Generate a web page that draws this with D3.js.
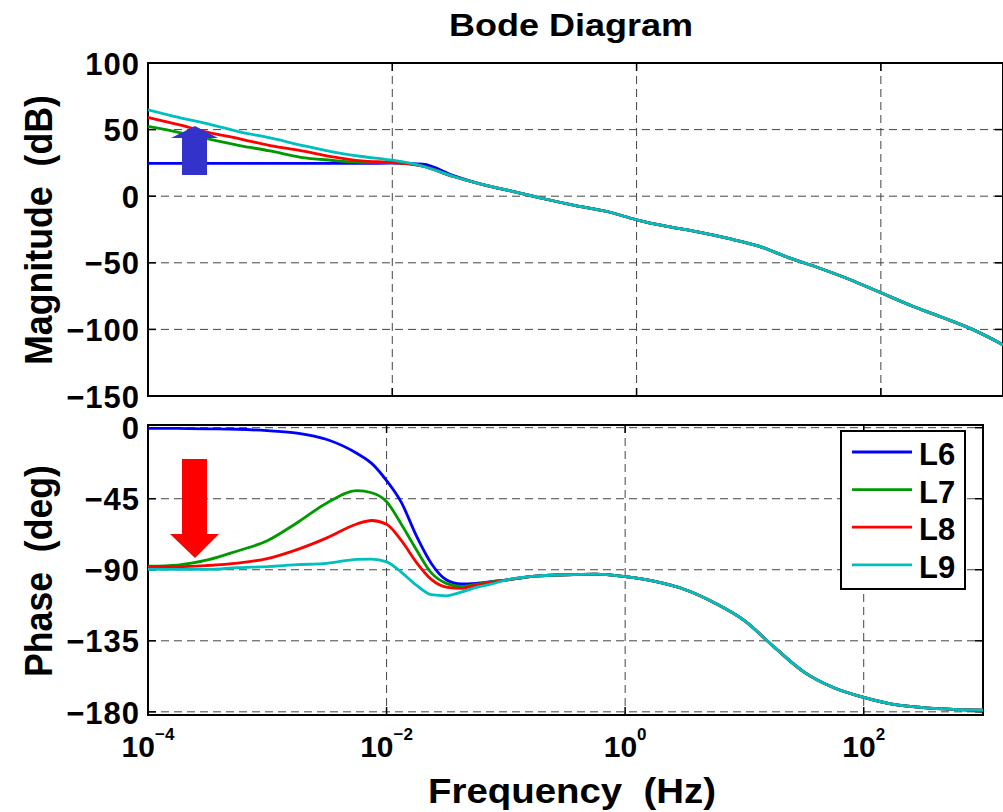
<!DOCTYPE html>
<html>
<head>
<meta charset="utf-8">
<script src="https://cdn.jsdelivr.net/npm/d3@7"></script>
<style>
  body { margin: 0; background: #fff; }
  text { font-family: "Liberation Sans", Arial, sans-serif; font-weight: bold; fill: #000; }
</style>
</head>
<body>
<svg id="chart" width="1003" height="812"></svg>
<script>
// series names and colours
var seriesNames = ["L6", "L7", "L8", "L9"];
var seriesColors = ["#0000ff", "#009900", "#ff0000", "#00bfbf"];

// magnitude: log10(frequency in Hz) and dB values
var magLogF = [-4, -3.75, -3.5, -3.25, -3, -2.75, -2.5, -2.25, -2, -1.75, -1.5, -1.25, -1, -0.75, -0.5, -0.25,
               0, 0.25, 0.5, 0.75, 1, 1.25, 1.5, 1.75, 2, 2.25, 2.5, 2.75, 3];
var magL6 = [24.6, 24.6, 24.6, 24.6, 24.6, 24.6, 24.6, 24.6, 24.8, 24.0, 15.5, 8.5, 3.3, -2.1, -7.0, -11.3,
             -17.7, -22.7, -26.8, -31.7, -37.5, -46.3, -54.1, -62.7, -72.5, -82.2, -90.9, -100.0, -111.5];
var magL7 = [52.4, 48.0, 42.8, 38.0, 34.0, 29.2, 27.0, 25.5, 25.2, 22.5, 14.8, 8.5, 3.3, -2.1, -7.0, -11.3,
             -17.7, -22.7, -26.8, -31.7, -37.5, -46.3, -54.1, -62.7, -72.5, -82.2, -90.9, -100.0, -111.5];
var magL8 = [59.2, 53.7, 47.8, 43.1, 38.0, 34.2, 29.8, 26.5, 25.3, 22.5, 14.8, 8.5, 3.3, -2.1, -7.0, -11.3,
             -17.7, -22.7, -26.8, -31.7, -37.5, -46.3, -54.1, -62.7, -72.5, -82.2, -90.9, -100.0, -111.5];
var magL9 = [64.9, 59.2, 54.1, 48.3, 43.7, 38.4, 33.5, 29.8, 27.0, 22.5, 14.8, 8.5, 3.3, -2.1, -7.0, -11.3,
             -17.7, -22.7, -26.8, -31.7, -37.5, -46.3, -54.1, -62.7, -72.5, -82.2, -90.9, -100.0, -111.5];

// phase: log10(frequency in Hz) and degrees
var phLogF = [-4, -3.75, -3.5, -3.25, -3, -2.75, -2.5, -2.25, -2.125, -2, -1.875, -1.75, -1.625, -1.5, -1.375,
              -1.25, -1.125, -1, -0.75, -0.5, -0.25, 0, 0.25, 0.5, 0.75, 1, 1.25, 1.5, 1.75, 2, 2.25, 2.5, 2.75, 3];
var phL6 = [-0.4, -0.5, -0.7, -1.0, -1.9, -3.4, -7.5, -16.2, -22.6, -33.5, -47.5, -68.5, -86.0, -96.3, -99.0,
            -98.6, -97.6, -96.5, -94.0, -93.2, -92.8, -94.4, -97.4, -102.5, -111.0, -122.2, -139.0, -154.8, -164.7,
            -170.8, -175.2, -177.3, -178.4, -178.9];
var phL7 = [-87.7, -87.0, -83.8, -78.1, -71.6, -60.2, -47.7, -39.9, -41.2, -46.9, -61.3, -77.3, -92.0, -98.6, -100.6,
            -99.3, -97.6, -96.5, -94.0, -93.2, -92.8, -94.4, -97.4, -102.5, -111.0, -122.2, -139.0, -154.8, -164.7,
            -170.8, -175.2, -177.3, -178.4, -178.9];
var phL8 = [-88.1, -88.1, -87.3, -85.8, -82.9, -77.2, -69.8, -61.0, -58.8, -61.2, -71.6, -85.3, -96.1, -101.0, -101.8,
            -99.7, -98.2, -96.5, -94.0, -93.2, -92.8, -94.4, -97.4, -102.5, -111.0, -122.2, -139.0, -154.8, -164.7,
            -170.8, -175.2, -177.3, -178.4, -178.9];
var phL9 = [-89.8, -89.8, -89.8, -88.7, -88.0, -86.8, -85.9, -83.4, -83.2, -85.0, -91.6, -99.8, -105.8, -106.5, -104.2,
            -101.2, -99.1, -96.5, -94.0, -93.2, -92.8, -94.4, -97.4, -102.5, -111.0, -122.2, -139.0, -154.8, -164.7,
            -170.8, -175.2, -177.3, -178.4, -178.9];

// tick values
var magTicks = [100, 50, 0, -50, -100, -150];
var phTicks = [0, -45, -90, -135, -180];
var freqTickExp = [-4, -2, 0, 2];

var magSeries = [magL6, magL7, magL8, magL9];
var phSeries = [phL6, phL7, phL8, phL9];

var svg = d3.select("#chart");

var magBox = { left: 148, right: 1003, top: 63, bottom: 396 };
var phBox = { left: 148, right: 983, top: 425, bottom: 715 };

var xMag = d3.scaleLog().domain([1e-4, 1e3]).range([magBox.left, magBox.right]);
var yMag = d3.scaleLinear().domain([-150, 100]).range([magBox.bottom, magBox.top]);
var xPh = d3.scaleLog().domain([1e-4, 1e3]).range([phBox.left, phBox.right]);
var yPh = d3.scaleLinear().domain([-182, 1.7]).range([phBox.bottom, phBox.top]);

var gridDecades = [1e-2, 1, 1e2];

function minus(v) { return v < 0 ? "\u2212" + Math.abs(v) : String(v); }

function drawPanel(box, x, y, yTicks, yGrid, name) {
  var w = box.right - box.left, h = box.bottom - box.top;

  svg.append("clipPath").attr("id", "clip-" + name)
    .append("rect").attr("x", box.left).attr("y", box.top).attr("width", w).attr("height", h);

  // dashed grid
  var grid = svg.append("g").attr("class", "grid")
    .attr("stroke", "#444").attr("stroke-width", 1).attr("stroke-dasharray", "8,5");
  grid.selectAll("line.h").data(yGrid).enter().append("line")
    .attr("x1", box.left).attr("x2", box.right)
    .attr("y1", function(d) { return y(d); }).attr("y2", function(d) { return y(d); });
  grid.selectAll("line.v").data(gridDecades).enter().append("line")
    .attr("x1", function(d) { return x(d); }).attr("x2", function(d) { return x(d); })
    .attr("y1", box.top).attr("y2", box.bottom);

  // inward tick marks
  var ticks = svg.append("g").attr("stroke", "#000").attr("stroke-width", 1.5);
  ticks.selectAll("line.l").data(yTicks).enter().append("line")
    .attr("x1", box.left).attr("x2", box.left + 8)
    .attr("y1", function(d) { return y(d); }).attr("y2", function(d) { return y(d); });
  ticks.selectAll("line.r").data(yTicks).enter().append("line")
    .attr("x1", box.right).attr("x2", box.right - 8)
    .attr("y1", function(d) { return y(d); }).attr("y2", function(d) { return y(d); });
  ticks.selectAll("line.b").data(gridDecades).enter().append("line")
    .attr("x1", function(d) { return x(d); }).attr("x2", function(d) { return x(d); })
    .attr("y1", box.bottom).attr("y2", box.bottom - 8);
  ticks.selectAll("line.t").data(gridDecades).enter().append("line")
    .attr("x1", function(d) { return x(d); }).attr("x2", function(d) { return x(d); })
    .attr("y1", box.top).attr("y2", box.top + 8);

  // y tick labels through a d3 axis
  var yAxis = d3.axisLeft(y).tickValues(yTicks).tickSize(0).tickPadding(8).tickFormat(minus);
  var ga = svg.append("g").attr("transform", "translate(" + box.left + ",0)").call(yAxis);
  ga.select(".domain").remove();
  ga.selectAll("text").attr("dy", "0.36em")
    .style("font-size", "31px").style("letter-spacing", "1px")
    .style("font-family", '"Liberation Sans", Arial, sans-serif').style("font-weight", "bold");

  // frame
  svg.append("rect").attr("x", box.left).attr("y", box.top).attr("width", w).attr("height", h)
    .attr("fill", "none").attr("stroke", "#000").attr("stroke-width", 2);
}

drawPanel(magBox, xMag, yMag, magTicks, [50, 0, -50, -100], "mag");
drawPanel(phBox, xPh, yPh, phTicks, [0, -45, -90, -135, -180], "ph");

function drawLines(series, logF, x, y, name) {
  var line = d3.line()
    .x(function(d, i) { return x(Math.pow(10, logF[i])); })
    .y(function(d) { return y(d); })
    .curve(d3.curveMonotoneX);
  svg.append("g").attr("clip-path", "url(#clip-" + name + ")")
    .selectAll("path").data(series).enter().append("path")
    .attr("d", line)
    .attr("fill", "none")
    .attr("stroke", function(d, i) { return seriesColors[i]; })
    .attr("stroke-width", 2.8)
    .attr("stroke-linejoin", "round");
}

drawLines(magSeries, magLogF, xMag, yMag, "mag");
drawLines(phSeries, phLogF, xPh, yPh, "ph");

// x tick labels 10^n under the phase panel
var xl = svg.append("g").selectAll("text").data(freqTickExp).enter().append("text")
  .attr("x", function(d) { return xPh(Math.pow(10, d)); })
  .attr("y", 757)
  .attr("text-anchor", "middle")
  .style("font-size", "30px");
xl.append("tspan").text("10");
xl.append("tspan").attr("dy", -17).style("font-size", "17px")
  .text(function(d) { return d < 0 ? "\u2212" + Math.abs(d) : String(d); });

// titles
svg.append("text").attr("x", 571).attr("y", 36).attr("text-anchor", "middle")
  .attr("textLength", 244).attr("lengthAdjust", "spacingAndGlyphs")
  .style("font-size", "31px").text("Bode Diagram");
svg.append("text").attr("x", 572).attr("y", 803).attr("text-anchor", "middle")
  .attr("textLength", 288).attr("lengthAdjust", "spacingAndGlyphs")
  .style("white-space", "pre")
  .style("font-size", "35px").text("Frequency  (Hz)");
svg.append("text").attr("transform", "translate(52,230) rotate(-90)").attr("text-anchor", "middle")
  .attr("textLength", 270).attr("lengthAdjust", "spacingAndGlyphs")
  .style("white-space", "pre")
  .style("font-size", "38px").text("Magnitude  (dB)");
svg.append("text").attr("transform", "translate(52,571) rotate(-90)").attr("text-anchor", "middle")
  .attr("textLength", 212).attr("lengthAdjust", "spacingAndGlyphs")
  .style("white-space", "pre")
  .style("font-size", "38px").text("Phase  (deg)");

// legend
var legend = svg.append("g");
legend.append("rect").attr("x", 841).attr("y", 431).attr("width", 124).attr("height", 158)
  .attr("fill", "#fff").attr("stroke", "#000").attr("stroke-width", 2);
var items = legend.selectAll("g.item").data(seriesNames).enter().append("g")
  .attr("transform", function(d, i) { return "translate(0," + (452 + i * 37.6) + ")"; });
items.append("line").attr("x1", 852).attr("x2", 912).attr("y1", 0).attr("y2", 0)
  .attr("stroke", function(d, i) { return seriesColors[i]; }).attr("stroke-width", 2.8);
items.append("text").attr("x", 919).attr("y", 13)
  .style("font-size", "31px").text(function(d) { return d; });

// annotation arrows
svg.append("path")
  .attr("d", "M182,175 L182,138 L171,138 L195,126 L218,138 L207,138 L207,175 Z")
  .attr("fill", "#3333cc");
svg.append("path")
  .attr("d", "M182,459 L182,534 L170,534 L195,558 L219,534 L207,534 L207,459 Z")
  .attr("fill", "#ff0000");
</script>
</body>
</html>
